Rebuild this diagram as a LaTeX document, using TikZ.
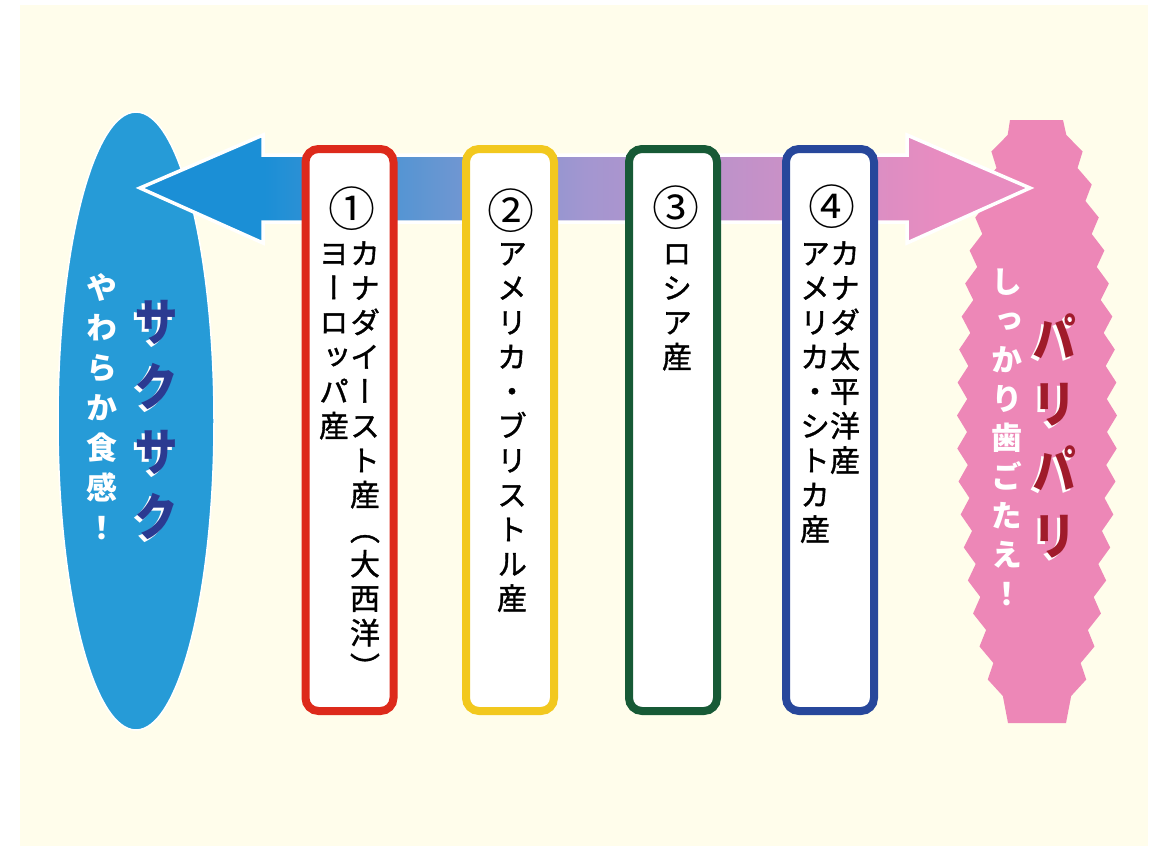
\documentclass[tikz,border=0pt]{standalone}
\usepackage{fontspec}
\usepackage{graphicx}
\newfontfamily\jpv[RawFeature=+vert]{Noto Sans CJK JP}
\newfontfamily\jpvm[RawFeature=+vert, FakeBold=1.2]{Noto Sans CJK JP}
\newfontfamily\jph{Noto Sans CJK JP}
\newdimen\vpitch
\def\vcolaux#1{\ifx\relax#1\else\hbox to 1em{\hss\vbox to\vpitch{\vss\hbox{\rule[-0.12em]{0pt}{1em}#1}\vss}\hss}\expandafter\vcolaux\fi}
\newcommand\vcol[2]{\vbox{\offinterlineskip\vpitch=#1\relax\vcolaux#2\relax}}
\definecolor{cream}{RGB}{255,253,235}
\definecolor{bluec}{RGB}{38,155,215}
\definecolor{pinkc}{RGB}{237,135,183}
\definecolor{ablue}{RGB}{27,143,214}
\definecolor{amid}{RGB}{100,150,210}
\definecolor{apurple}{RGB}{163,150,208}
\definecolor{apink}{RGB}{232,140,192}
\definecolor{redc}{RGB}{221,42,27}
\definecolor{yelc}{RGB}{242,200,30}
\definecolor{grnc}{RGB}{23,90,54}
\definecolor{bluebox}{RGB}{39,71,155}
\definecolor{navy}{RGB}{43,58,145}
\definecolor{dred}{RGB}{160,27,43}
\pgfdeclarehorizontalshading{arrsh}{100bp}{color(0bp)=(ablue); color(32bp)=(ablue); color(41.5bp)=(amid); color(50bp)=(apurple); color(70bp)=(apink); color(100bp)=(apink)}
\tikzset{
  txt/.style={inner sep=0pt, font=\jpv},
  boxc/.style={draw=#1, fill=white, line width=8pt, rounded corners=13pt, minimum width=88pt, minimum height=562pt, inner sep=0pt},
  circnum/.style={inner sep=0pt, font=\jph\fontsize{47}{47}\selectfont},
  boxtxt/.style={inner sep=0pt, anchor=north, font=\jpvm\fontsize{30}{30}\selectfont},
}
\begin{document}
\begin{tikzpicture}[x=1pt, y=-1pt,
  declare function={w(\t)=28+52*(sin(0.298507*(\t-120)))^0.6; tri(\t)=abs(mod(\t-135,33)/16.5-1);}]
\useasboundingbox (0,0) rectangle (1166,846);
\fill[white] (0,0) rectangle (1166,846);
\fill[cream] (20,5) rectangle (1148,846);
% left ellipse
\filldraw[fill=bluec, draw=white, line width=1.5pt] (136,421) ellipse [x radius=78, y radius=309];
% right jagged shape
\fill[pinkc] (1010,120) -- (1063,120)
  -- plot[variable=\t, domain=135:696, samples=35] ({1037+w(\t)-10*tri(\t)}, \t)
  -- (1066,723) -- (1008,723)
  -- plot[variable=\t, domain=696:135, samples=35] ({1037-w(\t)+10*tri(\t)}, \t)
  -- cycle;
% double arrow
\shadedraw[shading=arrsh, draw=white, line width=3.5pt, line join=miter]
  (140,188) -- (263,135) -- (263,155) -- (907,155) -- (907,135) -- (1030,188)
  -- (907,243) -- (907,222) -- (263,222) -- (263,243) -- cycle;
% boxes
\node[boxc=redc] (b1) at (349.5,430) {};
\node[boxc=yelc] (b2) at (510,430) {};
\node[boxc=grnc] (b3) at (673,430) {};
\node[boxc=bluebox] (b4) at (830,430) {};
% numbers
\node[circnum] (n1) at (352,209) {①};
\node[circnum] (n2) at (511,211) {②};
\node[circnum] (n3) at (676,208) {③};
\node[circnum] (n4) at (832,207) {④};
% box texts
\node[boxtxt] (t1a) at (365,235.75) {\vcol{34.5pt}{カナダイースト産（大西洋）}};
\node[boxtxt] (t1b) at (334,235.75) {\vcol{34.5pt}{ヨーロッパ産}};
\node[boxtxt] (t2) at (512,235.75) {\vcol{34.5pt}{アメリカ・ブリストル産}};
\node[boxtxt] (t3) at (677,235.75) {\vcol{34.5pt}{ロシア産}};
\node[boxtxt] (t4a) at (845,235.75) {\vcol{34.5pt}{カナダ太平洋産}};
\node[boxtxt] (t4b) at (815,235.75) {\vcol{34.5pt}{アメリカ・シトカ産}};
% left labels
\node[txt, anchor=north, text=white, font=\jpv\bfseries\fontsize{31}{31}\selectfont] (s1) at (102,268) {\vcol{40pt}{やわらか食感！}};
\node[txt, anchor=north, text=white, font=\jpv\bfseries\fontsize{52}{52}\selectfont] (s2w) at (154,292.5) {\scalebox{0.85}[1]{\vcol{65pt}{サクサク}}};
\node[txt, anchor=north, text=navy, font=\jpv\bfseries\fontsize{52}{52}\selectfont] (s2) at (157,289.5) {\scalebox{0.85}[1]{\vcol{65pt}{サクサク}}};
% right labels
\node[txt, anchor=north, text=white, font=\jpv\bfseries\fontsize{31}{31}\selectfont] (r1) at (1007,262.5) {\vcol{39pt}{しっかり歯ごたえ！}};
\node[txt, anchor=north, text=white, font=\jpv\bfseries\fontsize{52}{52}\selectfont] (r2w) at (1052,308) {\scalebox{0.85}[1]{\vcol{66pt}{パリパリ}}};
\node[txt, anchor=north, text=dred, font=\jpv\bfseries\fontsize{52}{52}\selectfont] (r2) at (1055,305) {\scalebox{0.85}[1]{\vcol{66pt}{パリパリ}}};
\end{tikzpicture}
\end{document}
